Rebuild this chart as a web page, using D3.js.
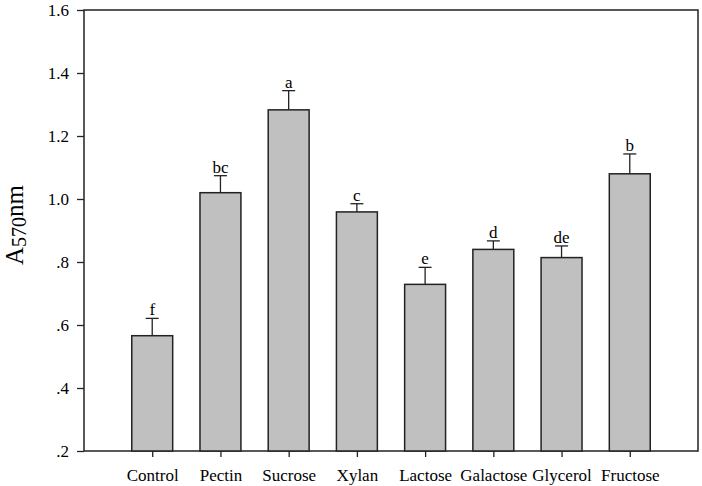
<!DOCTYPE html>
<html>
<head>
<meta charset="utf-8">
<script src="https://cdn.jsdelivr.net/npm/d3@7"></script>
<style>
  body { margin: 0; background: #fff; }
  svg text { font-family: "Liberation Serif", "Times New Roman", serif; fill: #000; }
</style>
</head>
<body>
<div id="main"></div>
<script>
var categories = ['Control', 'Pectin', 'Sucrose', 'Xylan', 'Lactose', 'Galactose', 'Glycerol', 'Fructose'];
var means = [0.566, 1.020, 1.283, 0.959, 0.729, 0.840, 0.814, 1.080];
var errors = [0.055, 0.054, 0.061, 0.026, 0.054, 0.027, 0.037, 0.063];
var letters = ['f', 'bc', 'a', 'c', 'e', 'd', 'de', 'b'];
var yTicks = [0.2, 0.4, 0.6, 0.8, 1.0, 1.2, 1.4, 1.6];
var yTickLabels = ['.2', '.4', '.6', '.8', '1.0', '1.2', '1.4', '1.6'];

var serif = '"Liberation Serif", "Times New Roman", serif';
var width = 702;
var height = 486;
var margin = {top: 10, right: 4, bottom: 35, left: 84};

var svg = d3.select('#main')
  .append('svg')
  .attr('width', width)
  .attr('height', height);

var x = d3.scalePoint()
  .domain(categories)
  .range([margin.left, width - margin.right])
  .padding(1);

var y = d3.scaleLinear()
  .domain([0.2, 1.6])
  .range([height - margin.bottom, margin.top]);

var barWidth = x.step() * 0.6;

// frame
svg.append('rect')
  .attr('x', margin.left)
  .attr('y', margin.top)
  .attr('width', width - margin.right - margin.left)
  .attr('height', height - margin.bottom - margin.top)
  .attr('fill', 'none')
  .attr('stroke', '#222')
  .attr('stroke-width', 1.5);

// y axis
var yAxis = svg.append('g')
  .attr('transform', 'translate(' + margin.left + ',0)')
  .call(d3.axisLeft(y)
    .tickValues(yTicks)
    .tickSize(7)
    .tickPadding(8)
    .tickFormat(function(d, i) { return yTickLabels[i]; }));
yAxis.attr('font-family', serif).attr('font-size', 17);
yAxis.select('.domain').remove();
yAxis.selectAll('line').attr('stroke', '#222').attr('stroke-width', 1.3);
yAxis.selectAll('text').attr('fill', '#000');

// x axis
var xAxis = svg.append('g')
  .attr('transform', 'translate(0,' + (height - margin.bottom) + ')')
  .call(d3.axisBottom(x).tickSize(6).tickPadding(12));
xAxis.attr('font-family', serif).attr('font-size', 17);
xAxis.select('.domain').remove();
xAxis.selectAll('line').attr('stroke', '#222').attr('stroke-width', 1.3);
xAxis.selectAll('text').attr('fill', '#000');

// error bars (drawn first so bar covers lower part)
var err = svg.append('g')
  .selectAll('g')
  .data(categories)
  .enter().append('g');

err.append('line')
  .attr('x1', function(d) { return x(d); })
  .attr('x2', function(d) { return x(d); })
  .attr('y1', function(d, i) { return y(means[i]); })
  .attr('y2', function(d, i) { return y(means[i] + errors[i]); })
  .attr('stroke', '#222')
  .attr('stroke-width', 1.3);

err.append('line')
  .attr('x1', function(d) { return x(d) - 6.5; })
  .attr('x2', function(d) { return x(d) + 6.5; })
  .attr('y1', function(d, i) { return y(means[i] + errors[i]); })
  .attr('y2', function(d, i) { return y(means[i] + errors[i]); })
  .attr('stroke', '#222')
  .attr('stroke-width', 1.3);

// bars
svg.append('g')
  .selectAll('rect')
  .data(categories)
  .enter().append('rect')
  .attr('x', function(d) { return x(d) - barWidth / 2; })
  .attr('y', function(d, i) { return y(means[i]); })
  .attr('width', barWidth)
  .attr('height', function(d, i) { return y(0.2) - y(means[i]); })
  .attr('fill', '#c0c0c0')
  .attr('stroke', '#222')
  .attr('stroke-width', 1.5);

// significance letters
svg.append('g')
  .selectAll('text')
  .data(categories)
  .enter().append('text')
  .attr('x', function(d) { return x(d); })
  .attr('y', function(d, i) { return y(means[i] + errors[i]) - 3; })
  .attr('text-anchor', 'middle')
  .attr('font-family', serif)
  .attr('font-size', 17)
  .text(function(d, i) { return letters[i]; });

// y label
var ylab = svg.append('text')
  .attr('transform', 'translate(23,225) rotate(-90)')
  .attr('text-anchor', 'middle')
  .attr('font-family', serif)
  .attr('font-size', 25);
ylab.append('tspan').text('A');
ylab.append('tspan').attr('dy', 3).attr('font-size', 20).text('570');
ylab.append('tspan').attr('dy', -3).text('nm');
</script>
</body>
</html>
